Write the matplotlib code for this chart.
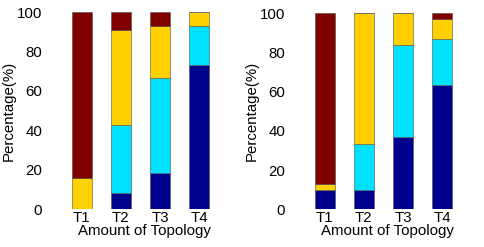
import numpy as np
import matplotlib.pyplot as plt

plt.rcParams['font.family'] = ['Liberation Sans', 'DejaVu Sans']

# category labels and stacked percentages (bottom to top)
labels = ['T1', 'T2', 'T3', 'T4']
colors = ['#00008F', '#00E0FF', '#FFD000', '#800000']

# left panel
left_navy = [0, 8.1, 18.4, 73.3]
left_cyan = [0, 34.5, 48.2, 19.9]
left_yellow = [15.7, 48.1, 26.6, 6.8]
left_red = [84.3, 9.3, 6.8, 0]

# right panel
right_navy = [9.7, 9.7, 36.7, 63.4]
right_cyan = [0, 23.6, 47.0, 23.5]
right_yellow = [3.2, 66.7, 16.3, 10.0]
right_red = [87.1, 0, 0, 3.1]

fig = plt.figure(figsize=(4.85, 2.47), dpi=100)
ax1 = fig.add_axes([0.104, 0.153, 0.389, 0.798])
ax2 = fig.add_axes([0.605, 0.153, 0.389, 0.793])

x = np.arange(1, 5)


def stacked(ax, parts):
    bottom = np.zeros(len(x))
    for vals, c in zip(parts, colors):
        vals = np.array(vals)
        ax.bar(x, vals, width=0.5, bottom=bottom, color=c,
               edgecolor='#505050', linewidth=0.4)
        bottom += vals
    ax.set_xlim(0.2, 5.02)
    ax.set_ylim(0, 100)
    ax.set_yticks([0, 20, 40, 60, 80, 100])
    ax.set_xticks(x)
    ax.set_xticklabels(labels)
    for s in ax.spines.values():
        s.set_visible(False)
    ax.tick_params(length=0, labelsize=10.8, pad=1.5)
    ax.tick_params(axis='y', pad=6)
    ax.set_ylabel('Percentage(%)', fontsize=10.8, labelpad=1)
    ax.set_xlabel('Amount of Topology', fontsize=10.8, labelpad=-1)


stacked(ax1, [left_navy, left_cyan, left_yellow, left_red])
stacked(ax2, [right_navy, right_cyan, right_yellow, right_red])

fig.savefig('out.png', dpi=100)
